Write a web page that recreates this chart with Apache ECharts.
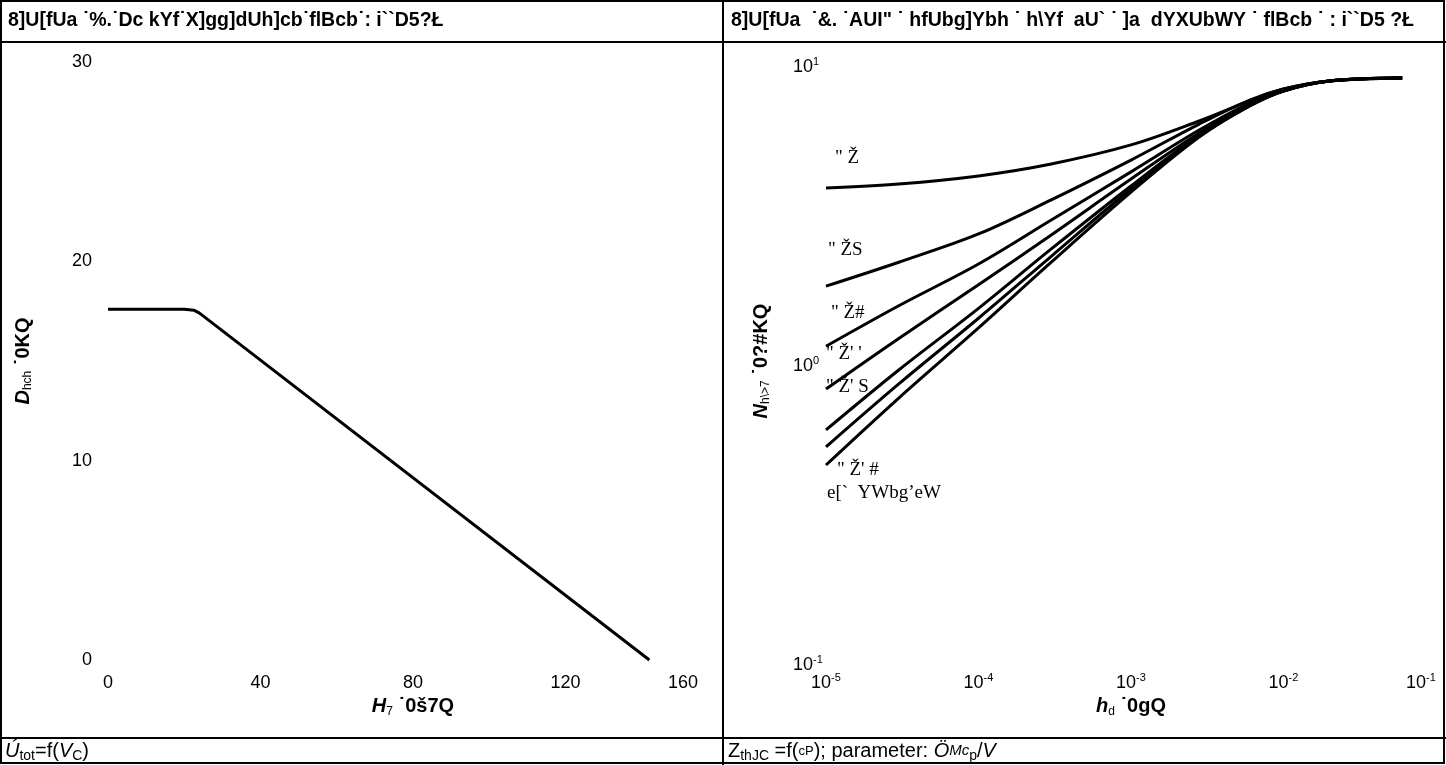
<!DOCTYPE html>
<html><head><meta charset="utf-8">
<script src="https://cdn.jsdelivr.net/npm/echarts@6/dist/echarts.min.js"></script>
<style>html,body{margin:0;padding:0;background:#fff}#c{width:1446px;height:765px}</style>
</head><body><div id="c"></div>
<script>
// ---------- DATA ----------
const leftTitle = '8]U[fUa ˙%.˙Dc kYf˙X]gg]dUh]cb˙flBcb˙: i``D5?Ł';
const rightTitle = '8]U[fUa  ˙&. ˙AUI" ˙ hfUbg]Ybh ˙ h\\Yf  aU` ˙ ]a  dYXUbWY ˙ flBcb ˙ : i``D5 ?Ł';

// Diagram 1: Ptot vs Tc
const tcValues   = [0, 20, 22.5, 24, 142];
const ptotValues = [17.6, 17.6, 17.55, 17.4, 0];
const tcTicks    = [0, 40, 80, 120, 160];
const ptotTicks  = [0, 10, 20, 30];

// Diagram 2: ZthJC vs tp
const tpValues = [1e-5, 3e-5, 1e-4, 3e-4, 1e-3, 2.8e-3, 6e-3, 1e-2, 2e-2, 6e-2];
const zD050  = [3.79, 3.91, 4.16, 4.56, 5.28, 6.35, 7.41, 8.12, 8.64, 8.84];
const zD020  = [1.78, 2.14, 2.66, 3.46, 4.70, 6.20, 7.46, 8.12, 8.64, 8.84];
const zD010  = [1.12, 1.53, 2.11, 2.96, 4.29, 5.92, 7.29, 8.06, 8.64, 8.84];
const zD005  = [0.806, 1.19, 1.80, 2.64, 4.06, 5.79, 7.24, 8.06, 8.64, 8.84];
const zD002  = [0.588, 0.933, 1.50, 2.37, 3.85, 5.70, 7.18, 8.00, 8.64, 8.84];
const zD001  = [0.516, 0.838, 1.39, 2.24, 3.76, 5.66, 7.13, 8.00, 8.64, 8.84];
const zSingle= [0.449, 0.752, 1.29, 2.14, 3.67, 5.61, 7.13, 8.00, 8.64, 8.84];
const zCurves = [zD050, zD020, zD010, zD005, zD002, zD001, zSingle];
const curveLabels = ['" Ž', '" ŽS', '" Ž#', '" Ž\' \'', '" Ž\' S', '" Ž\' #', 'e[`  YWbg’eW'];
const tpTickExps = [-5, -4, -3, -2, -1];
const zTickExps  = [-1, 0, 1];

// ---------- CHART ----------
const chart = echarts.init(document.getElementById('c'), null, {renderer: 'canvas'});
const FONT = '"Liberation Sans", Arial, sans-serif';
const SERIF = '"Liberation Serif", "Times New Roman", serif';

const supRich = {
  b:  {fontSize: 18, fontFamily: FONT, color: '#000'},
  s:  {fontSize: 11, fontFamily: FONT, color: '#000', verticalAlign: 'top', lineHeight: 22},
  sl: {fontSize: 11, fontFamily: FONT, color: '#000', verticalAlign: 'top', lineHeight: 22, padding: [0, 30, 0, 0]},
  last: {fontSize: 18, fontFamily: FONT, color: '#000', padding: [0, 70, 0, 0]}
};
const nameRich = {
  i:   {fontSize: 20, fontFamily: FONT, fontWeight: 'bold', fontStyle: 'italic', color: '#000'},
  sub: {fontSize: 12, fontFamily: FONT, color: '#000', verticalAlign: 'bottom', lineHeight: 22},
  b:   {fontSize: 20, fontFamily: FONT, fontWeight: 'bold', color: '#000'}
};

const series = [{
  type: 'line', xAxisIndex: 0, yAxisIndex: 0, symbol: 'none', silent: true,
  data: tcValues.map((t, i) => [t, ptotValues[i]]),
  lineStyle: {color: '#000', width: 3}
}];
zCurves.forEach(arr => series.push({
  type: 'line', xAxisIndex: 1, yAxisIndex: 1, symbol: 'none', smooth: 0.35, silent: true,
  data: tpValues.map((t, i) => [t, arr[i]]),
  lineStyle: {color: '#000', width: 3}
}));

const labelPos = [[835,158],[828,250],[831,313],[826,354],[826,387],[837,470],[827,493]];

const TITLE_FONT = 'bold 19.5px "Liberation Sans", Arial';
const graphics = [
  {type: 'rect', shape: {x: 1, y: 1, width: 1443, height: 762}, style: {fill: 'none', stroke: '#000', lineWidth: 2}, silent: true},
  {type: 'line', shape: {x1: 0, y1: 42, x2: 1446, y2: 42}, style: {stroke: '#000', lineWidth: 2}, silent: true},
  {type: 'line', shape: {x1: 0, y1: 738, x2: 1446, y2: 738}, style: {stroke: '#000', lineWidth: 2}, silent: true},
  {type: 'line', shape: {x1: 723, y1: 0, x2: 723, y2: 765}, style: {stroke: '#000', lineWidth: 2}, silent: true},
  {type: 'text', x: 8, y: 21, style: {text: leftTitle, font: TITLE_FONT, fill: '#000', verticalAlign: 'middle'}},
  {type: 'text', x: 731, y: 21, style: {text: rightTitle, font: TITLE_FONT, fill: '#000', verticalAlign: 'middle'}},
  {type: 'text', x: 5, y: 751, style: {
    text: '{i|Ú}{sub|tot}{n|=f(}{i|V}{sub|C}{n|)}', verticalAlign: 'middle',
    rich: {
      i: {fontSize: 20, fontFamily: FONT, fontStyle: 'italic', fill: '#000'},
      n: {fontSize: 20, fontFamily: FONT, fill: '#000'},
      sub: {fontSize: 14, fontFamily: FONT, fill: '#000', verticalAlign: 'bottom', lineHeight: 24}
    }}},
  {type: 'text', x: 728, y: 751, style: {
    text: '{n|Z}{sub|thJC}{n| =f(}{sm|cP}{n|); parameter: }{i|Ö}{is|Mc}{sub|p}{n|/}{i|V}', verticalAlign: 'middle',
    rich: {
      i: {fontSize: 20, fontFamily: FONT, fontStyle: 'italic', fill: '#000'},
      is: {fontSize: 15, fontFamily: FONT, fontStyle: 'italic', fill: '#000'},
      n: {fontSize: 20, fontFamily: FONT, fill: '#000'},
      sm: {fontSize: 13, fontFamily: FONT, fill: '#000'},
      sub: {fontSize: 14, fontFamily: FONT, fill: '#000', verticalAlign: 'bottom', lineHeight: 24}
    }}}
];
curveLabels.forEach((t, i) => graphics.push({
  type: 'text', x: labelPos[i][0], y: labelPos[i][1],
  style: {text: t, font: '19px ' + SERIF, fill: '#000', verticalAlign: 'middle'}
}));

const noLines = {axisLine: {show: false}, axisTick: {show: false}, splitLine: {show: false}};

chart.setOption({
  animation: false,
  backgroundColor: '#fff',
  grid: [
    {left: 108, right: 1446 - 718, top: 62, bottom: 765 - 660, containLabel: false, outerBoundsMode: 'none'},
    {left: 826, right: 1446 - 1436, top: 62, bottom: 765 - 660, containLabel: false, outerBoundsMode: 'none'}
  ],
  xAxis: [
    Object.assign({
      type: 'value', gridIndex: 0, min: tcTicks[0], max: tcTicks[tcTicks.length - 1],
      interval: tcTicks[1] - tcTicks[0],
      name: '{i|H}{sub|7}{b| ˙0š7Q}', nameLocation: 'middle', nameGap: 35,
      nameTextStyle: {rich: nameRich},
      axisLabel: {margin: 14, color: '#000', fontSize: 18, fontFamily: FONT, rich: supRich,
        formatter: v => v === tcTicks[tcTicks.length - 1] ? '{last|' + v + '}' : String(v)}
    }, noLines),
    Object.assign({
      type: 'log', logBase: 10, gridIndex: 1,
      min: Math.pow(10, tpTickExps[0]), max: Math.pow(10, tpTickExps[tpTickExps.length - 1]),
      name: '{i|h}{sub|d}{b| ˙0gQ}', nameLocation: 'middle', nameGap: 35,
      nameTextStyle: {rich: nameRich},
      axisLabel: {margin: 12, color: '#000', rich: supRich,
        formatter: v => {
          const e = Math.round(Math.log10(v));
          return e === tpTickExps[tpTickExps.length - 1] ? '{b|10}{sl|' + e + '}' : '{b|10}{s|' + e + '}';
        }}
    }, noLines)
  ],
  yAxis: [
    Object.assign({
      type: 'value', gridIndex: 0, min: ptotTicks[0], max: ptotTicks[ptotTicks.length - 1],
      interval: ptotTicks[1] - ptotTicks[0],
      name: '{i|D}{sub|hch}{b| ˙0KQ}', nameLocation: 'middle', nameGap: 74,
      nameTextStyle: {rich: nameRich},
      axisLabel: {margin: 16, color: '#000', fontSize: 18, fontFamily: FONT}
    }, noLines),
    Object.assign({
      type: 'log', logBase: 10, gridIndex: 1,
      min: Math.pow(10, zTickExps[0]), max: Math.pow(10, zTickExps[zTickExps.length - 1]),
      name: '{i|N}{sub|h\\>7}{b| ˙0?#KQ}', nameLocation: 'middle', nameGap: 54,
      nameTextStyle: {rich: nameRich},
      axisLabel: {margin: 33, align: 'left', color: '#000', rich: supRich, padding: [10, 0, 0, 0],
        formatter: v => '{b|10}{s|' + Math.round(Math.log10(v)) + '}'}
    }, noLines)
  ],
  series: series,
  graphic: graphics
});
</script>
</body></html>
